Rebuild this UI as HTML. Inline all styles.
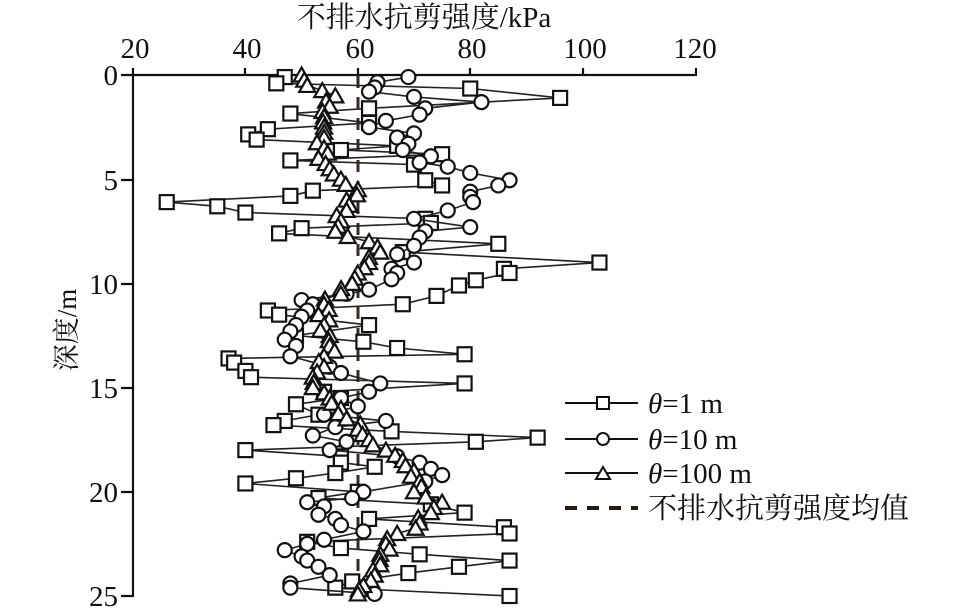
<!DOCTYPE html>
<html><head><meta charset="utf-8"><style>
html,body{margin:0;padding:0;background:#fff}
svg{display:block}
text{font-family:"Liberation Serif","Noto Serif CJK SC",serif;fill:#111}
</style></head><body>
<svg id="s" width="957" height="613" viewBox="0 0 957 613" xmlns="http://www.w3.org/2000/svg">
<text x="424" y="27" font-size="29" text-anchor="middle">不排水抗剪强度/kPa</text>
<g font-size="29" text-anchor="middle">
<text x="135" y="58">20</text><text x="247" y="58">40</text><text x="360" y="58">60</text>
<text x="472" y="58">80</text><text x="585" y="58">100</text><text x="695" y="58">120</text>
</g>
<g font-size="29" text-anchor="end">
<text x="118" y="85">0</text><text x="118" y="190">5</text><text x="118" y="294">10</text>
<text x="118" y="398">15</text><text x="118" y="502">20</text><text x="118" y="606">25</text>
</g>
<text transform="translate(76,330) rotate(-90)" font-size="27" text-anchor="middle">深度/m</text>
<g stroke="#111" stroke-width="2.2" fill="none">
<line x1="133" y1="75" x2="697" y2="75"/>
<line x1="133" y1="74" x2="133" y2="597"/>
<path d="M133 68V75M245 68V75M358 68V75M470 68V75M583 68V75M696 68V75"/>
<path d="M121 75H133M121 180H133M121 284H133M121 388H133M121 492H133M121 596H133"/>
</g>
<line x1="358" y1="76" x2="358" y2="596" stroke="#3a2a22" stroke-width="3" stroke-dasharray="12,9"/>
<g id="d"></g>
<g stroke="#111" stroke-width="2" fill="#fff">
<line x1="565" y1="403" x2="638" y2="403"/><rect x="597" y="397" width="12" height="12"/>
<line x1="565" y1="439" x2="638" y2="439"/><circle cx="603" cy="439" r="6"/>
<line x1="565" y1="473" x2="638" y2="473"/><path d="M596 479L603 467L610 479Z"/>
</g>
<line x1="565" y1="508" x2="638" y2="508" stroke="#2a1a14" stroke-width="4" stroke-dasharray="12,10"/>
<g font-size="29">
<text x="648" y="413"><tspan font-style="italic">θ</tspan>=1 m</text>
<text x="648" y="449"><tspan font-style="italic">θ</tspan>=10 m</text>
<text x="648" y="483"><tspan font-style="italic">θ</tspan>=100 m</text>
<text x="648" y="518">不排水抗剪强度均值</text>
</g>
</svg>
<script>
var sq=[[0.1,47],[0.4,45.5],[0.65,80],[1.1,96],[1.6,62],[1.85,48],[2.3,62],[2.6,44],[2.85,40.5],[3.1,42],[3.4,67],[3.6,57],[3.8,75],[4.1,48],[4.3,70],[5.05,72],[5.3,75],[5.55,52],[5.8,48],[6.1,26],[6.3,35],[6.6,40],[6.9,72],[7.1,73],[7.35,50],[7.6,46],[8.1,85],[8.5,68],[9.0,103],[9.3,86],[9.5,87],[9.85,81],[10.1,78],[10.6,74],[11.0,68],[11.3,44],[11.5,46],[12.0,62],[12.5,49],[12.8,61],[13.1,67],[13.4,79],[13.6,37],[13.8,38],[14.2,40],[14.5,41],[14.8,79],[15.2,54],[15.5,57],[15.8,49],[16.3,53],[16.6,47],[16.8,45],[17.1,66],[17.4,92],[17.6,81],[18.0,40],[18.3,57],[18.6,57],[18.8,63],[19.1,56],[19.35,49],[19.6,40],[20.0,60],[20.3,53],[20.6,73],[21.0,79],[21.3,62],[21.7,86],[22.0,87],[22.4,51],[22.7,57],[23.0,71],[23.3,87],[23.6,78],[23.9,69],[24.3,59],[24.6,56],[25.0,87]];
var ci=[[0.1,69],[0.35,63.5],[0.6,63],[0.8,62],[1.05,70],[1.3,82],[1.6,72],[1.9,71],[2.2,65],[2.5,62],[2.8,70],[3.0,67],[3.3,69],[3.6,68],[3.9,73],[4.2,71],[4.4,76],[4.7,80],[5.05,87],[5.3,85],[5.6,80],[5.85,80],[6.1,80.5],[6.5,76],[6.9,70],[7.3,80],[7.5,72],[7.8,71],[8.2,70],[8.6,67],[9.0,70],[9.3,66],[9.5,67],[9.8,66],[10.3,62],[10.5,58],[10.8,50],[11.0,52],[11.3,51],[11.6,50],[12.0,49],[12.3,48],[12.7,47],[13.0,49],[13.5,48],[14.0,55],[14.3,57],[14.8,64],[15.2,62],[15.5,57],[15.9,60],[16.3,54],[16.6,65],[16.9,56],[17.3,52],[17.6,58],[18.0,55],[18.3,67],[18.6,71],[18.9,73],[19.2,75],[19.5,72],[20.0,61],[20.3,59],[20.5,51],[20.7,54],[21.1,53],[21.3,56],[21.6,57],[21.9,61],[22.3,54],[22.5,51],[22.8,47],[23.1,50],[23.3,51],[23.6,53],[24.0,55],[24.4,48],[24.6,48],[24.9,63]];
var tb=[[0,50],[0.5,51],[1,56],[1.5,55],[2,54],[2.5,54],[3,54],[3.5,54],[4,53],[4.5,55],[5,57],[5.5,60],[6,58],[6.5,58],[7,57],[7.5,56],[8,62],[8.5,64],[9,62],[9.5,60],[10,59],[10.5,57],[11,54],[11.5,53],[12,54],[12.5,55],[13,55],[13.5,54],[14,54],[14.5,52],[15,52],[15.5,55],[16,57],[16.5,58],[17,60],[17.5,62],[18,65],[18.5,68],[19,70],[19.5,71],[20,70],[20.5,75],[21,73],[21.5,71],[22,67],[22.5,65],[23,64],[23.5,64],[24,63],[24.5,61],[24.9,60]];
var seed=7;function rnd(){seed=(seed*9301+49297)%233280;return seed/233280;}
var tri=[];for(var i=0;i<tb.length;i++){tri.push(tb[i]);if(i<tb.length-1){tri.push([(tb[i][0]+tb[i+1][0])/2,(tb[i][1]+tb[i+1][1])/2+(rnd()-0.5)*3]);}}
function X(v){return 133+(v-20)*5.62;}function Y(d){return 75+d*20.84;}
var h='';
function series(a,kind){var p='';a.forEach(function(q,i){p+=(i?'L':'M')+X(q[1]).toFixed(1)+' '+Y(q[0]).toFixed(1);});
h+='<path d="'+p+'" fill="none" stroke="#222" stroke-width="1.6"/>';
a.forEach(function(q){var x=X(q[1]),y=Y(q[0]);
if(kind==0)h+='<rect x="'+(x-7)+'" y="'+(y-7)+'" width="14" height="14" fill="#fff" stroke="#111" stroke-width="2.2"/>';
else if(kind==1)h+='<circle cx="'+x+'" cy="'+y+'" r="7" fill="#fff" stroke="#111" stroke-width="2.2"/>';
else h+='<path d="M'+(x-8)+' '+(y+6.5)+'L'+x+' '+(y-7.5)+'L'+(x+8)+' '+(y+6.5)+'Z" fill="#fff" stroke="#111" stroke-width="2.2"/>';});}
series(sq,0);series(ci,1);series(tri,2);
document.getElementById('d').innerHTML=h;
</script>
</body></html>
